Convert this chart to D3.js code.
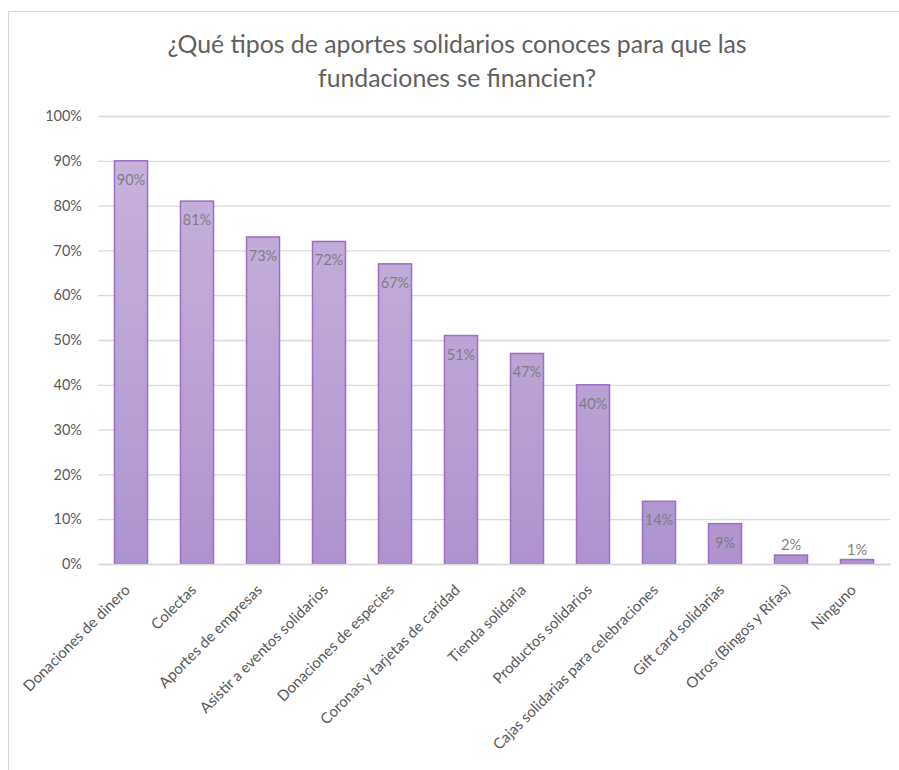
<!DOCTYPE html>
<html>
<head>
<meta charset="utf-8">
<script src="https://cdn.jsdelivr.net/npm/d3@7"></script>
<style>
  html, body { margin: 0; padding: 0; background: #fff; }
  svg { display: block; font-family: Lato, "Open Sans", sans-serif; }
</style>
</head>
<body>
<svg id="chart" width="899" height="770"></svg>
<script>
// Survey answers: known kinds of solidarity contributions
const categories = [
  "Donaciones de dinero",
  "Colectas",
  "Aportes de empresas",
  "Asistir a eventos solidarios",
  "Donaciones de especies",
  "Coronas y tarjetas de caridad",
  "Tienda solidaria",
  "Productos solidarios",
  "Cajas solidarias para celebraciones",
  "Gift card solidarias",
  "Otros (Bingos y Rifas)",
  "Ninguno"
];
const values = [90, 81, 73, 72, 67, 51, 47, 40, 14, 9, 2, 1];
const yTicks = [0, 10, 20, 30, 40, 50, 60, 70, 80, 90, 100];
const titleLines = [
  "¿Qué tipos de aportes solidarios conoces para que las",
  "fundaciones se financien?"
];

const svg = d3.select("#chart");

// frame of the chart area
svg.append("rect")
  .attr("x", 8.5).attr("y", 11.5)
  .attr("width", 1000).attr("height", 1000)
  .attr("fill", "none").attr("stroke", "#d9d9d9").attr("stroke-width", 1);

// title
svg.append("text")
  .attr("text-anchor", "middle")
  .attr("fill", "#606060")
  .attr("font-size", 24.8)
  .selectAll("tspan").data(titleLines).join("tspan")
  .attr("x", 457)
  .attr("y", (d, i) => 53 + i * 34)
  .text(d => d);

const x = d3.scaleBand().domain(categories).range([98, 890]).paddingInner(0.5).paddingOuter(0.25);
const y = d3.scaleLinear().domain([0, 100]).range([564, 116]);

// gradient fill for bars
const defs = svg.append("defs");
const grad = defs.append("linearGradient").attr("id", "barFill")
  .attr("gradientUnits", "userSpaceOnUse")
  .attr("x1", 0).attr("x2", 0)
  .attr("y1", y(100)).attr("y2", y(0));
grad.append("stop").attr("offset", 0).attr("stop-color", "#c9b6dc");
grad.append("stop").attr("offset", 1).attr("stop-color", "#ae93cf");

// gridlines
const grid = svg.append("g")
  .attr("transform", "translate(98,0)")
  .call(d3.axisLeft(y).tickValues(yTicks).tickSize(-(890 - 98)).tickFormat(""));
grid.select(".domain").remove();
grid.selectAll("line").attr("stroke", "#d9d9d9").attr("stroke-width", 1.3);

// y tick labels
const yAxis = svg.append("g")
  .attr("transform", "translate(98,0)")
  .call(d3.axisLeft(y).tickValues(yTicks).tickSize(0).tickPadding(16).tickFormat(d => d + "%"));
yAxis.select(".domain").remove();
yAxis.selectAll("text")
  .attr("fill", "#595959")
  .attr("font-family", "Lato, 'Open Sans', sans-serif")
  .attr("font-size", 14.5);

// bars
svg.append("g").selectAll("rect").data(values).join("rect")
  .attr("x", (d, i) => x(categories[i]))
  .attr("y", d => y(d))
  .attr("width", x.bandwidth())
  .attr("height", d => y(0) - y(d))
  .attr("fill", "url(#barFill)")
  .attr("stroke", "#9c6cc6")
  .attr("stroke-width", 1.5);

// value labels: inside the top of the bar, or above it when the bar is too short
svg.append("g").selectAll("text").data(values).join("text")
  .attr("x", (d, i) => x(categories[i]) + x.bandwidth() / 2)
  .attr("y", d => (y(0) - y(d) > 28) ? y(d) + 24 : y(d) - 5)
  .attr("text-anchor", "middle")
  .attr("fill", "#7f7f7f")
  .attr("font-size", 14.5)
  .text(d => d + "%");

// category labels, rotated
const xAxis = svg.append("g")
  .attr("transform", "translate(0,564)")
  .call(d3.axisBottom(x).tickSize(0).tickPadding(0));
xAxis.select(".domain").attr("stroke", "#d9d9d9").attr("stroke-width", 1.3);
xAxis.selectAll("text")
  .attr("fill", "#595959")
  .attr("font-family", "Lato, 'Open Sans', sans-serif")
  .attr("font-size", 15)
  .attr("text-anchor", "end")
  .attr("dy", 0)
  .attr("transform", "translate(0,27) rotate(-45)");
</script>
</body>
</html>
